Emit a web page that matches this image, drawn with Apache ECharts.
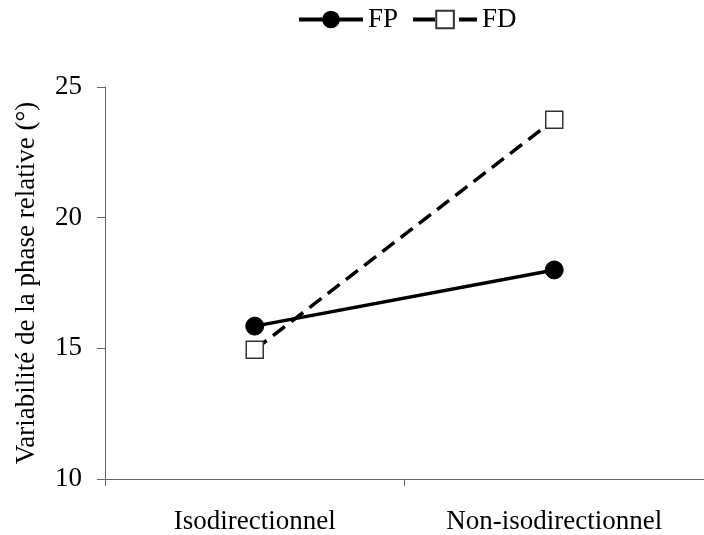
<!DOCTYPE html>
<html><head><meta charset="utf-8">
<script src="https://cdn.jsdelivr.net/npm/echarts@6/dist/echarts.min.js"></script>
<style>html,body{margin:0;padding:0;background:#fff}#c{width:704px;height:535px}</style>
</head><body><div id="c"></div>
<script>
const categories = ['Isodirectionnel', 'Non-isodirectionnel'];
const fpValues = [15.85, 18.0];
const fdValues = [14.95, 23.75];
const yTicks = {min: 10, max: 25, interval: 5};
const seriesNames = ['FP', 'FD'];
const yTitle = 'Variabilité de la phase relative (°)';

const font = 'Liberation Serif';
const chart = echarts.init(document.getElementById('c'));
chart.setOption({
  backgroundColor: '#fff',
  animation: false,
  legend: {
    top: 1, left: 292,
    itemWidth: 64, itemHeight: 22, itemGap: 13,
    textStyle: {fontFamily: font, fontSize: 27, color: '#000'},
    lineStyle: {width: 4},
    data: [
      {name: seriesNames[0]},
      {name: seriesNames[1], lineStyle: {type: [22, 24], dashOffset: 0, width: 4}}
    ]
  },
  grid: {left: 105, top: 87, bottom: 55, right: -3},
  xAxis: {
    type: 'category', data: categories, boundaryGap: true,
    axisLine: {lineStyle: {color: '#666', width: 1}},
    axisTick: {show: true, length: 7, lineStyle: {color: '#666'}},
    axisLabel: {fontFamily: font, fontSize: 27, color: '#000', margin: 29}
  },
  yAxis: {
    type: 'value', min: yTicks.min, max: yTicks.max, interval: yTicks.interval,
    name: yTitle, nameLocation: 'middle', nameRotate: 90, nameGap: 65,
    nameTextStyle: {fontFamily: font, fontSize: 27, color: '#000'},
    axisLine: {show: true, lineStyle: {color: '#666', width: 1}},
    axisTick: {show: true, length: 8, lineStyle: {color: '#666'}},
    splitLine: {show: false},
    axisLabel: {fontFamily: font, fontSize: 27, color: '#000', margin: 23}
  },
  series: [
    {
      name: seriesNames[0], type: 'line', data: fpValues,
      symbol: 'circle', symbolSize: 18,
      lineStyle: {color: '#000', width: 3.5},
      itemStyle: {color: '#000', borderColor: '#000'}
    },
    {
      name: seriesNames[1], type: 'line', data: fdValues,
      symbol: 'rect', symbolSize: 17,
      lineStyle: {color: '#000', width: 3.5, type: [15, 8]},
      itemStyle: {color: '#fff', borderColor: '#333', borderWidth: 1.5}
    }
  ]
});
</script></body></html>
